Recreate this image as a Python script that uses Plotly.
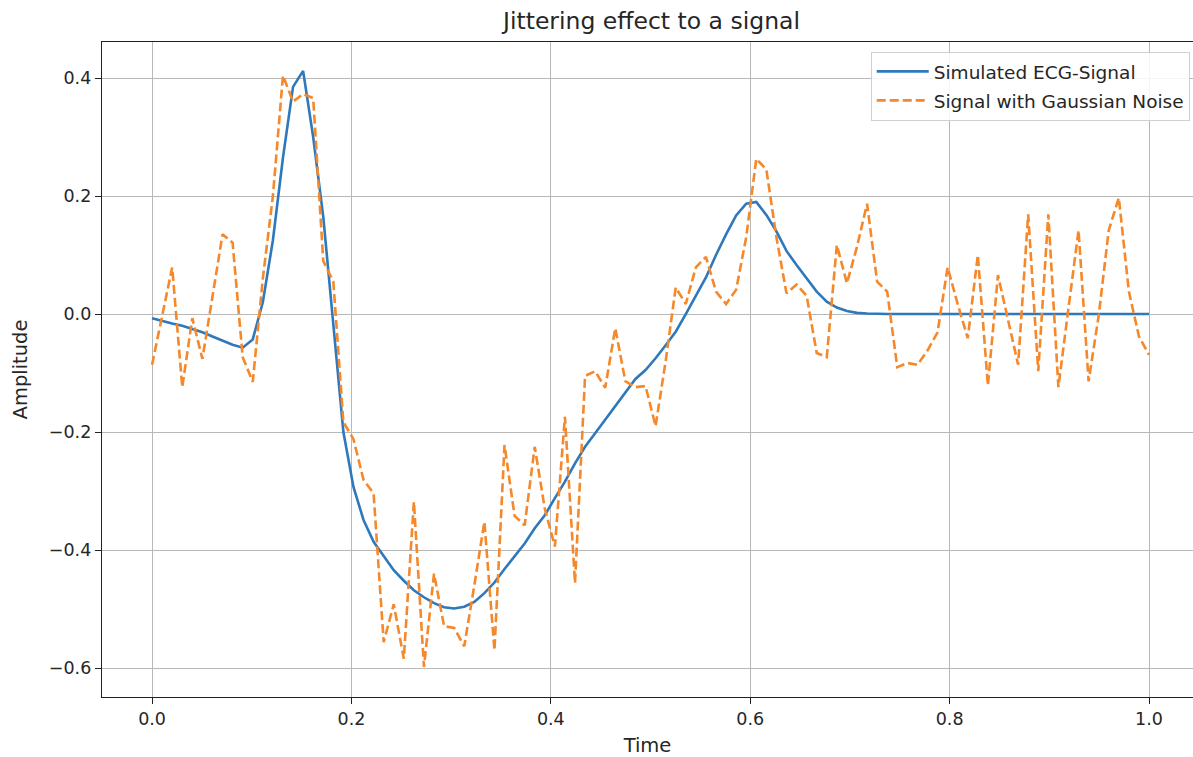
import numpy as np
import plotly.graph_objects as go

# 100 uniform samples over one second
time = np.linspace(0.0, 1.0, 100)

ecg_clean = [
    -0.007, -0.012, -0.016, -0.020, -0.025, -0.031, -0.038, -0.045, -0.052, -0.057,
    -0.043, 0.020, 0.125, 0.265, 0.385, 0.412, 0.300, 0.165, -0.015, -0.200,
    -0.293, -0.349, -0.386, -0.411, -0.434, -0.452, -0.468, -0.480, -0.490, -0.497,
    -0.499, -0.496, -0.488, -0.473, -0.455, -0.432, -0.411, -0.389, -0.363, -0.341,
    -0.312, -0.284, -0.253, -0.225, -0.202, -0.179, -0.154, -0.132, -0.110, -0.095,
    -0.075, -0.053, -0.030, 0.000, 0.030, 0.062, 0.100, 0.135, 0.167, 0.187,
    0.190, 0.168, 0.140, 0.107, 0.083, 0.060, 0.038, 0.021, 0.011, 0.005,
    0.002, 0.001, 0.000, 0.000, 0.000, 0.000, 0.000, 0.000, 0.000, 0.000,
    0.000, 0.000, 0.000, 0.000, 0.000, 0.000, 0.000, 0.000, 0.000, 0.000,
    0.000, 0.000, 0.000, 0.000, 0.000, 0.000, 0.000, 0.000, 0.000, 0.000,
]

ecg_noisy = [
    -0.086, -0.005, 0.079, -0.124, -0.007, -0.076, 0.030, 0.135, 0.121, -0.073,
    -0.115, 0.060, 0.200, 0.404, 0.360, 0.373, 0.366, 0.090, 0.055, -0.183,
    -0.212, -0.281, -0.304, -0.556, -0.492, -0.584, -0.318, -0.598, -0.440, -0.529,
    -0.532, -0.563, -0.460, -0.352, -0.570, -0.222, -0.342, -0.358, -0.225, -0.330,
    -0.394, -0.174, -0.456, -0.105, -0.097, -0.125, -0.024, -0.114, -0.124, -0.122,
    -0.190, -0.080, 0.045, 0.017, 0.079, 0.097, 0.038, 0.017, 0.041, 0.130,
    0.263, 0.245, 0.130, 0.035, 0.050, 0.031, -0.066, -0.073, 0.117, 0.052,
    0.114, 0.187, 0.055, 0.038, -0.090, -0.083, -0.086, -0.062, -0.031, 0.079,
    0.017, -0.041, 0.100, -0.121, 0.066, -0.010, -0.086, 0.169, -0.097, 0.169,
    -0.124, 0.010, 0.142, -0.114, -0.003, 0.142, 0.197, 0.038, -0.038, -0.069,
]

x_ticks = [0.0, 0.2, 0.4, 0.6, 0.8, 1.0]
y_ticks = [-0.6, -0.4, -0.2, 0.0, 0.2, 0.4]

BLUE = "#2f78bb"
ORANGE = "#f5882a"
FONT = "DejaVu Sans"
TEXT = "#262626"

fig = go.Figure()
fig.add_trace(go.Scatter(
    x=time, y=ecg_clean, mode="lines", name="Simulated ECG-Signal",
    legendgroup="clean",
    line=dict(color=BLUE, width=2.6),
))
fig.add_trace(go.Scatter(
    x=time, y=ecg_noisy, mode="lines", name="Signal with Gaussian Noise",
    legendgroup="noisy",
    line=dict(color=ORANGE, width=2.6, dash="9px,4px"),
))


def fmt(v):
    s = f"{v:.1f}"
    return s.replace("-", "\u2212")


fig.update_layout(
    width=1193, height=757,
    margin=dict(l=102, r=0, t=42, b=60),
    paper_bgcolor="white", plot_bgcolor="white",
    font=dict(family=FONT, size=17, color=TEXT),
    showlegend=True,
    legend=dict(
        x=0.997, y=0.985, xanchor="right", yanchor="top",
        bgcolor="rgba(255,255,255,0.85)", bordercolor="#d0d0d0", borderwidth=1,
        font=dict(family=FONT, size=18.5, color=TEXT),
        tracegroupgap=2, itemwidth=52,
    ),
)

fig.update_xaxes(
    range=[-0.0502, 1.0441], tickvals=x_ticks, ticktext=[fmt(v) for v in x_ticks],
    showgrid=True, gridcolor="#b8b8b8", gridwidth=1.3, zeroline=False,
    showline=True, linecolor="#222222", linewidth=1.4, mirror=True,
    ticks="outside", ticklen=6, tickwidth=1.3, tickcolor="#222222",
    tickfont=dict(family=FONT, size=17.5, color=TEXT),
    title=dict(text="Time", font=dict(family=FONT, size=19.5, color=TEXT), standoff=10),
)
fig.update_yaxes(
    range=[-0.649, 0.461], tickvals=y_ticks, ticktext=[fmt(v) for v in y_ticks],
    showgrid=True, gridcolor="#b8b8b8", gridwidth=1.3, zeroline=False,
    showline=True, linecolor="#222222", linewidth=1.4, mirror=False,
    ticks="outside", ticklen=6, tickwidth=1.3, tickcolor="#222222",
    tickfont=dict(family=FONT, size=17.5, color=TEXT),
    title=dict(text="Amplitude", font=dict(family=FONT, size=19.5, color=TEXT), standoff=15),
)

fig.add_annotation(
    text="Jittering effect to a signal", xref="paper", yref="paper",
    x=0.5025, y=1.0, yanchor="bottom", yshift=5, showarrow=False,
    font=dict(family=FONT, size=23.5, color=TEXT),
)

fig.write_html("out.html")
